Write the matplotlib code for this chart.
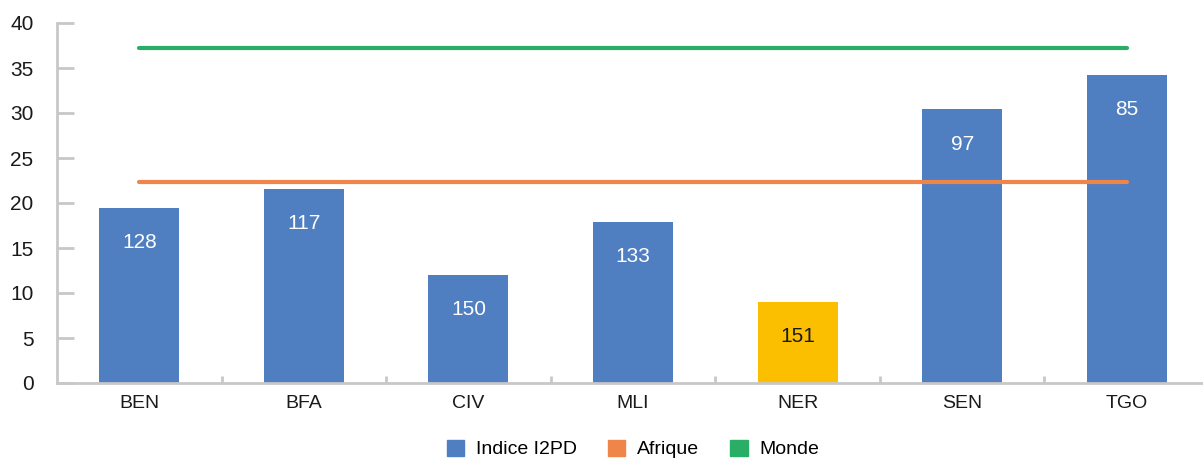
import matplotlib
matplotlib.use('Agg')
import matplotlib.pyplot as plt
from matplotlib.patches import Patch

plt.rcParams['font.family'] = ['Liberation Sans Narrow', 'Liberation Sans', 'DejaVu Sans']

# Données
pays = ['BEN', 'BFA', 'CIV', 'MLI', 'NER', 'SEN', 'TGO']
indice = [19.5, 21.6, 12.0, 17.9, 9.0, 30.4, 34.2]
rangs = ['128', '117', '150', '133', '151', '97', '85']
afrique = [22.3] * len(pays)
monde = [37.2] * len(pays)

bleu = '#4F7EC1'
jaune = '#FBBF00'
orange = '#F0854A'
vert = '#2AAE66'
gris = '#C8C8C8'

couleurs = [jaune if p == 'NER' else bleu for p in pays]

fig = plt.figure(figsize=(12.03, 4.59), dpi=100)
ax = fig.add_axes([57 / 1203, 76 / 459, 1152 / 1203, 360 / 459])

x = list(range(len(pays)))
bars = ax.bar(x, indice, width=0.486, color=couleurs, zorder=2)
ax.plot(x, afrique, color=orange, lw=3, solid_capstyle='round', zorder=3)
ax.plot(x, monde, color=vert, lw=3, solid_capstyle='round', zorder=3)

# Rangs dans les barres
for b, r, p in zip(bars, rangs, pays):
    ax.annotate(r, (b.get_x() + b.get_width() / 2, b.get_height()),
                xytext=(0, -25), textcoords='offset points',
                ha='center', va='center', fontsize=15,
                color='#1a1a1a' if p == 'NER' else 'white', zorder=4)

ax.set_xlim(-0.5, 6.5)
ax.set_ylim(0, 40)
ax.set_yticks(range(0, 41, 5))
ax.set_xticks(x)
ax.set_xticklabels(pays)
ax.set_xticks([i + 0.5 for i in x], minor=True)

for s in ['top', 'right']:
    ax.spines[s].set_visible(False)
for s in ['left', 'bottom']:
    ax.spines[s].set_color(gris)
    ax.spines[s].set_linewidth(2)

ax.tick_params(axis='y', direction='in', length=12, width=2, color=gris,
               pad=17, labelsize=15, labelcolor='#1a1a1a')
ax.tick_params(axis='x', which='major', length=0, pad=9, labelsize=14,
               labelcolor='#1a1a1a')
ax.tick_params(axis='x', which='minor', direction='in', length=5, width=2,
               color=gris)

handles = [Patch(color=bleu, label='Indice I2PD'),
           Patch(color=orange, label='Afrique'),
           Patch(color=vert, label='Monde')]
fig.legend(handles=handles, loc='center', bbox_to_anchor=(633 / 1203, 10 / 459),
           ncol=3, frameon=False, fontsize=14, handlelength=0.9, handleheight=0.9,
           columnspacing=1.6, handletextpad=0.6)

fig.savefig('out.png', dpi=100)
